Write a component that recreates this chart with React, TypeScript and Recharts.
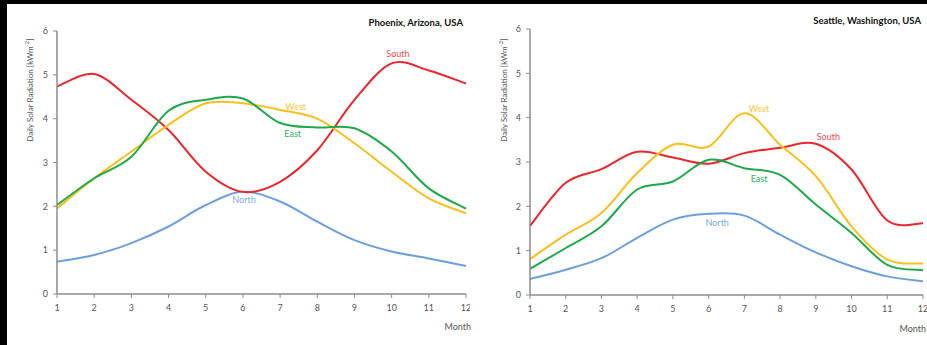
import React from 'react';
import { LineChart, Line, XAxis, YAxis, ReferenceDot } from 'recharts';

const months = [1, 2, 3, 4, 5, 6, 7, 8, 9, 10, 11, 12];
const monthTicks = [1, 2, 3, 4, 5, 6, 7, 8, 9, 10, 11, 12];
const valueTicks = [0, 1, 2, 3, 4, 5, 6];

const phoenixSouth = [4.73, 5.02, 4.43, 3.74, 2.79, 2.33, 2.56, 3.28, 4.43, 5.26, 5.1, 4.8];
const phoenixEast = [2.03, 2.64, 3.13, 4.18, 4.43, 4.46, 3.9, 3.8, 3.78, 3.25, 2.41, 1.95];
const phoenixWest = [1.95, 2.64, 3.25, 3.86, 4.35, 4.35, 4.2, 4.0, 3.44, 2.79, 2.18, 1.84];
const phoenixNorth = [0.74, 0.89, 1.16, 1.54, 2.03, 2.33, 2.11, 1.65, 1.23, 0.97, 0.81, 0.64];

const seattleSouth = [1.56, 2.53, 2.84, 3.23, 3.1, 2.96, 3.2, 3.32, 3.41, 2.83, 1.68, 1.62];
const seattleEast = [0.59, 1.06, 1.55, 2.38, 2.56, 3.05, 2.86, 2.71, 2.04, 1.4, 0.68, 0.56];
const seattleWest = [0.81, 1.36, 1.85, 2.75, 3.39, 3.35, 4.1, 3.39, 2.68, 1.55, 0.8, 0.71];
const seattleNorth = [0.36, 0.57, 0.83, 1.29, 1.7, 1.83, 1.79, 1.36, 0.96, 0.65, 0.42, 0.31];

const phoenixLabels = [
  { name: 'South', month: 10.17, value: 5.48 },
  { name: 'West', month: 7.42, value: 4.27 },
  { name: 'East', month: 7.34, value: 3.65 },
  { name: 'North', month: 6.03, value: 2.15 },
];
const seattleLabels = [
  { name: 'West', month: 7.41, value: 4.2 },
  { name: 'South', month: 9.35, value: 3.57 },
  { name: 'East', month: 7.41, value: 2.62 },
  { name: 'North', month: 6.24, value: 1.63 },
];

const COLORS: Record<string, string> = {
  South: '#e8262b',
  East: '#1fa84a',
  West: '#f7c01e',
  North: '#6c9fdc',
};
const LABEL_COLORS: Record<string, string> = {
  South: '#ec4a55',
  East: '#2fb060',
  West: '#f8c83a',
  North: '#7aa8e2',
};

const build = (s: number[], e: number[], w: number[], n: number[]) =>
  months.map((m, i) => ({ month: m, South: s[i], East: e[i], West: w[i], North: n[i] }));

const phoenixData = build(phoenixSouth, phoenixEast, phoenixWest, phoenixNorth);
const seattleData = build(seattleSouth, seattleEast, seattleWest, seattleNorth);

// Catmull-Rom style smoothing (like spreadsheet "smoothed line")
const smoothCurve: any = (context: any) => {
  let pts: number[][] = [];
  return {
    areaStart() {},
    areaEnd() {},
    lineStart() {
      pts = [];
    },
    point(x: number, y: number) {
      pts.push([+x, +y]);
    },
    lineEnd() {
      const n = pts.length;
      if (!n) return;
      context.moveTo(pts[0][0], pts[0][1]);
      for (let i = 0; i < n - 1; i++) {
        const p0 = pts[i - 1] || pts[i];
        const p1 = pts[i];
        const p2 = pts[i + 1];
        const p3 = pts[i + 2] || pts[i + 1];
        context.bezierCurveTo(
          p1[0] + (p2[0] - p0[0]) / 6,
          p1[1] + (p2[1] - p0[1]) / 6,
          p2[0] - (p3[0] - p1[0]) / 6,
          p2[1] - (p3[1] - p1[1]) / 6,
          p2[0],
          p2[1]
        );
      }
    },
  };
};

const FONT = 'Lato, "Open Sans", sans-serif';
const AXIS = '#8c8c8c';
const tickStyle = { fontSize: 9, fill: '#555', fontFamily: FONT };

function Panel({ data, labels, width, yWidth, margin }: any) {
  return (
    <LineChart width={width} height={345} data={data} margin={margin}>
      <XAxis
        dataKey="month"
        type="number"
        domain={[1, 12]}
        ticks={monthTicks}
        interval={0}
        tick={tickStyle}
        tickSize={4}
        tickMargin={7}
        height={30}
        axisLine={{ stroke: AXIS, strokeWidth: 1.5 }}
        tickLine={{ stroke: AXIS }}
      />
      <XAxis
        xAxisId="top"
        orientation="top"
        type="number"
        domain={[1, 12]}
        height={0}
        tick={false}
        tickLine={false}
        axisLine={{ stroke: AXIS, strokeWidth: 1.2 }}
      />
      <YAxis
        type="number"
        domain={[0, 6]}
        ticks={valueTicks}
        interval={0}
        tick={tickStyle}
        tickSize={4}
        tickMargin={5}
        width={yWidth}
        axisLine={{ stroke: AXIS, strokeWidth: 1.5 }}
        tickLine={{ stroke: AXIS }}
      />
      <YAxis
        yAxisId="right"
        orientation="right"
        type="number"
        domain={[0, 6]}
        width={0}
        tick={false}
        tickLine={false}
        axisLine={{ stroke: AXIS, strokeWidth: 1.2 }}
      />
      {['North', 'South', 'West', 'East'].map((k) => (
        <Line
          key={k}
          type={smoothCurve}
          dataKey={k}
          stroke={COLORS[k]}
          strokeWidth={2}
          dot={false}
          isAnimationActive={false}
        />
      ))}
      {labels.map((l: any) => (
        <ReferenceDot
          key={l.name}
          x={l.month}
          y={l.value}
          r={0}
          fill="none"
          stroke="none"
          ifOverflow="visible"
          label={{ value: l.name, position: 'center', fill: LABEL_COLORS[l.name], fontSize: 9, fontFamily: FONT }}
        />
      ))}
    </LineChart>
  );
}

const textBase: React.CSSProperties = {
  position: 'absolute',
  fontFamily: FONT,
  whiteSpace: 'nowrap',
  lineHeight: 1,
};

export default function App() {
  return (
    <div style={{ position: 'fixed', left: 0, top: 0, width: 927, height: 345, background: '#000', overflow: 'hidden' }}>
      <div style={{ position: 'absolute', left: 7, top: 4, width: 920, height: 341, background: '#fff' }} />
      <div style={{ position: 'absolute', left: 0, top: 0 }}>
        <Panel data={phoenixData} labels={phoenixLabels} width={470} yWidth={57} margin={{ top: 31, right: 4, bottom: 21, left: 0 }} />
      </div>
      <div style={{ position: 'absolute', left: 470, top: 0 }}>
        <Panel data={seattleData} labels={seattleLabels} width={457} yWidth={60} margin={{ top: 29, right: 4, bottom: 20, left: 0 }} />
      </div>
      <div style={{ ...textBase, right: 927 - 463, top: 18, fontSize: 9.5, fontWeight: 700, color: '#111' }}>Phoenix, Arizona, USA</div>
      <div style={{ ...textBase, right: 927 - 921, top: 16, fontSize: 9.5, fontWeight: 700, color: '#111' }}>Seattle, Washington, USA</div>
      <div style={{ ...textBase, right: 927 - 471, top: 322, fontSize: 9, color: '#555' }}>Month</div>
      <div style={{ ...textBase, right: 1, top: 324, fontSize: 9, color: '#555' }}>Month</div>
      <div style={{ ...textBase, left: 29, top: 90, fontSize: 8, color: '#555', transform: 'translate(-50%, -50%) rotate(-90deg)' }}>
        Daily Solar Radiation [kWm<sup style={{ fontSize: 6 }}>-2</sup>]
      </div>
      <div style={{ ...textBase, left: 503, top: 90, fontSize: 8, color: '#555', transform: 'translate(-50%, -50%) rotate(-90deg)' }}>
        Daily Solar Radiation [kWm<sup style={{ fontSize: 6 }}>-2</sup>]
      </div>
    </div>
  );
}
